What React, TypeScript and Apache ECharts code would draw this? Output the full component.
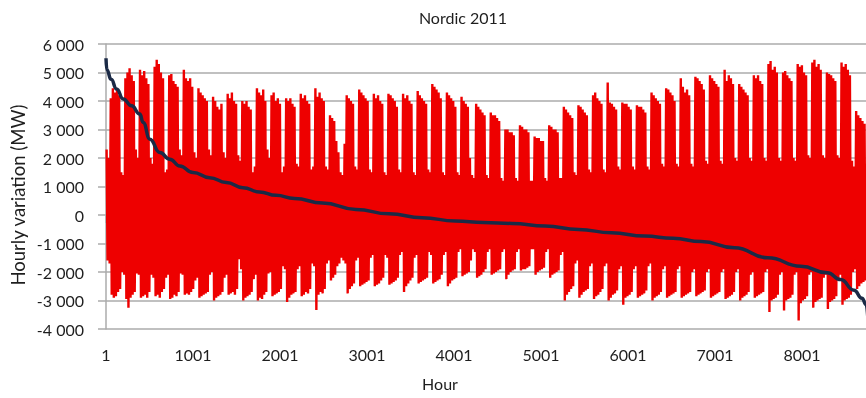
import React, { useEffect, useRef } from "react";
import * as echarts from "echarts";

// Daily maximum hourly variation (MW), Jan 1 (Sat) ... Dec 31 (Sat), one week (Mon..Sun) per line
const dailyPeak: number[] = [
  2300, 2000,
  4100, 4450, 4300, 4400, 4200, 1500, 1400,
  4800, 5000, 5150, 4900, 4700, 2300, 2000,
  5100, 4900, 5050, 4800, 4600, 2000, 1800,
  5200, 5450, 5300, 5000, 4800, 1500, 1600,
  4900, 4950, 4700, 4600, 4500, 2300, 2100,
  5100, 4800, 4700, 4800, 4500, 2200, 2000,
  4450, 4300, 4200, 4100, 4000, 2300, 2100,
  4150, 4000, 3800, 3700, 3900, 2200, 2000,
  4250, 4100, 4300, 4000, 3900, 2100, 1900,
  4000, 3900, 4000, 3800, 3700, 1500, 1700,
  4450, 4300, 4200, 4400, 4000, 2300, 2000,
  4200, 4300, 4000, 4100, 3900, 1500, 1700,
  4100, 4000, 4100, 3900, 3800, 1800, 1700,
  4250, 4100, 4200, 4000, 3900, 1600, 1700,
  4450, 4150, 4300, 4100, 4000, 1700, 1600,
  3500, 3400, 3300, 2600, 2200, 1500, 1400,
  2500, 4200, 4100, 4000, 3900, 1700, 1600,
  4400, 4300, 4200, 4100, 4000, 1600, 1500,
  4250, 4100, 4200, 4000, 3900, 1500, 1400,
  4250, 4200, 4100, 4000, 3800, 1600, 1500,
  4250, 4100, 4200, 4000, 3900, 1500, 1400,
  4350, 4200, 4100, 4000, 3900, 1600, 1500,
  4600, 4500, 4400, 4300, 4100, 1500, 1400,
  4300, 4200, 4100, 4000, 3800, 1500, 1400,
  4150, 4000, 3900, 3800, 2000, 1400, 1300,
  3900, 3800, 3700, 3600, 3500, 1400, 1300,
  3600, 3500, 3500, 3400, 3300, 1300, 1200,
  3000, 3000, 2900, 2900, 2800, 1300, 1200,
  3150, 3100, 3000, 3000, 2900, 1200, 1200,
  2750, 2700, 2700, 2600, 2600, 1300, 1200,
  3150, 3100, 3000, 3000, 2900, 1300, 1300,
  3800, 3700, 3600, 3500, 3400, 1500, 1400,
  3850, 3800, 3700, 3600, 3500, 1600, 1500,
  4200, 4300, 4100, 4000, 3900, 1600, 1500,
  4650, 3950, 3900, 3800, 3700, 1700, 1600,
  3950, 3900, 3900, 3800, 3700, 1700, 1600,
  3850, 3800, 3800, 3700, 3600, 1700, 1600,
  4300, 4200, 4100, 4000, 3900, 1800, 1700,
  4450, 4400, 4300, 4200, 4000, 1800, 1700,
  4800, 4500, 4300, 4400, 4200, 1800, 1700,
  4850, 4800, 4700, 4600, 4400, 1900, 1800,
  4900, 4800, 4700, 4600, 4500, 1900, 1800,
  5100, 4700, 4900, 4800, 4600, 2000, 1900,
  4600, 4500, 4400, 4300, 4200, 2000, 1900,
  4900, 4800, 4900, 4700, 4600, 2000, 1900,
  5300, 5400, 5100, 5200, 5000, 2000, 1900,
  5000, 5050, 4900, 4800, 4700, 2000, 1900,
  5300, 5200, 5250, 5000, 4900, 2100, 2000,
  5350, 5450, 5200, 5300, 5100, 2100, 2000,
  5000, 4950, 4900, 4800, 4700, 2100, 2000,
  5350, 5200, 5300, 5100, 4900, 1900, 1700,
  3650, 3500, 3400, 3300, 3200, 1800,
];

// Daily minimum hourly variation (MW), same layout
const dailyTrough: number[] = [
  -1600, -1700,
  -2800, -2900, -2850, -2700, -2600, -2000, -2100,
  -2950, -3250, -2900, -2800, -2700, -2050, -2100,
  -2900, -2850, -2800, -2900, -2700, -2100, -2200,
  -2850, -2800, -2900, -2700, -2600, -2200, -2100,
  -2950, -2900, -2800, -2850, -2700, -2050, -2100,
  -2800, -2750, -2800, -2700, -2600, -2300, -2200,
  -2900, -2850, -2800, -2750, -2700, -2100, -2000,
  -3000, -2900, -2850, -2800, -2700, -2200, -2100,
  -2800, -2750, -2700, -2800, -2600, -1550, -1900,
  -3000, -2900, -2850, -2800, -2700, -2250, -2100,
  -3000, -2900, -2950, -2800, -2700, -2050, -2000,
  -2850, -2800, -2750, -2700, -2600, -1800, -1900,
  -3050, -2900, -2800, -2750, -2700, -1900, -1800,
  -2850, -2800, -2700, -2750, -2600, -1700, -1800,
  -3330, -2800, -2700, -2750, -2600, -1700, -1600,
  -2300, -2200, -2100, -1800, -1700, -1500, -1600,
  -1700, -2750, -2600, -2500, -2400, -1600, -1500,
  -2500, -2450, -2400, -2350, -2300, -1500, -1400,
  -2500, -2450, -2400, -2300, -2200, -1400, -1500,
  -2450, -2400, -2350, -2300, -2200, -1400, -1300,
  -2700, -2500, -2400, -2300, -2200, -1500, -1400,
  -2400, -2350, -2300, -2250, -2200, -1300, -1400,
  -2400, -2350, -2300, -2250, -2100, -1400, -1300,
  -2500, -2400, -2300, -2250, -2200, -1300, -1200,
  -2150, -2100, -2050, -2000, -1600, -1200, -1300,
  -2200, -2150, -2100, -2000, -1900, -1300, -1200,
  -2100, -2050, -2000, -1950, -1900, -1300, -1200,
  -2250, -2100, -2000, -1950, -1900, -1300, -1200,
  -1950, -1900, -1900, -1850, -1800, -1200, -1200,
  -2100, -2000, -1950, -1900, -1850, -1300, -1200,
  -2200, -2100, -2050, -2000, -1950, -1400, -1300,
  -3000, -2800, -2700, -2600, -2500, -1700, -1600,
  -2900, -2800, -2700, -2650, -2600, -1800, -1700,
  -2950, -2850, -2800, -2700, -2600, -1800, -1700,
  -3000, -2900, -2800, -2750, -2650, -1900, -1800,
  -3150, -2900, -2850, -2800, -2700, -1900, -1800,
  -2900, -2850, -2800, -2750, -2650, -1800, -1700,
  -3000, -2900, -2850, -2800, -2700, -1900, -1800,
  -2900, -2850, -2800, -2750, -2700, -1900, -1800,
  -2900, -2850, -2800, -2750, -2700, -2000, -1900,
  -2850, -2800, -2750, -2700, -2650, -2000, -1900,
  -2900, -2850, -2800, -2750, -2700, -2000, -1900,
  -2950, -2900, -2850, -2800, -2700, -2000, -1900,
  -3000, -2900, -2850, -2800, -2700, -2100, -2000,
  -2900, -2850, -2800, -2750, -2700, -2000, -1900,
  -3400, -3000, -2950, -2900, -2800, -2100, -2000,
  -3350, -3000, -2950, -2900, -2800, -2100, -2000,
  -3700, -3100, -3000, -2950, -2850, -2100, -2000,
  -3250, -3050, -3000, -2950, -2900, -2200, -2100,
  -3300, -3050, -3000, -2950, -2850, -2200, -2100,
  -3150, -3000, -2950, -2900, -2800, -2000, -1900,
  -2600, -2500, -2400, -2350, -2300, -1800,
];

// Duration curve (sorted hourly variation), read at selected hours
const durationHours: number[] = [
  1, 10, 60, 123, 199, 295, 390, 428, 505, 620, 734, 849, 1001, 1192, 1384,
  1574, 1765, 1956, 2166, 2490, 2873, 3254, 3636, 4018, 4342, 4667, 5049,
  5431, 5812, 6194, 6519, 6843, 7225, 7607, 7988, 8294, 8446, 8600, 8690, 8740, 8760,
];
const durationValues: number[] = [
  5500, 5100, 4760, 4420, 4070, 3830, 3540, 3250, 2660, 2190, 1960, 1720, 1490, 1310, 1140,
  960, 810, 690, 580, 420, 197, 40, -96, -213, -260, -295, -390,
  -506, -624, -740, -820, -930, -1150, -1500, -1800, -2030, -2265, -2640, -2920, -3150, -3700,
];

const yMin = -4000;
const yMax = 6000;
const yStep = 1000;
const xMin = 1;
const xMax = 8760;
const xTickStep = 600;
const xLabelStep = 1000;

const FONT = "Lato";
const TEXT = "#1e1e1e";
const GRID = "#ababab";

function fmtThousands(v: number): string {
  const s = Math.abs(v).toString().replace(/\B(?=(\d{3})+(?!\d))/g, " ");
  return (v < 0 ? "-" : "") + s;
}

export default function App() {
  const ref = useRef<HTMLDivElement>(null);
  useEffect(() => {
    const chart = echarts.init(ref.current!, undefined, { renderer: "svg" });
    const redData: [number, number][] = [];
    dailyPeak.forEach((p, d) => {
      redData.push([d * 24 + 8, p]);
      redData.push([d * 24 + 19, dailyTrough[d]]);
    });
    const darkData = durationHours.map((h, i) => [h, durationValues[i]]);

    chart.setOption({
      animation: false,
      textStyle: { fontFamily: FONT },
      grid: { left: 106, right: 0, top: 44, bottom: 69 },
      xAxis: [
        {
          type: "value",
          min: xMin,
          max: xMax,
          interval: xTickStep,
          position: "bottom",
          axisLine: { show: true, lineStyle: { color: GRID, width: 1.5 } },
          axisTick: { show: true, length: 8, lineStyle: { color: GRID, width: 1.5 } },
          axisLabel: { show: false },
          splitLine: { show: false },
        },
        {
          type: "value",
          min: xMin,
          max: xMax,
          interval: xLabelStep,
          position: "bottom",
          axisLine: { show: false },
          axisTick: { show: false },
          splitLine: { show: false },
          axisLabel: {
            show: true,
            margin: 17,
            fontSize: 16,
            fontFamily: FONT,
            color: TEXT,
            formatter: (v: number) => ((v - 1) % xLabelStep === 0 ? String(v) : ""),
          },
        },
      ],
      yAxis: {
        type: "value",
        min: yMin,
        max: yMax,
        interval: yStep,
        axisLine: { show: true, lineStyle: { color: GRID, width: 1.5 } },
        axisTick: { show: true, length: 8, lineStyle: { color: GRID, width: 1.5 } },
        splitLine: { show: true, lineStyle: { color: GRID, width: 1.5 } },
        axisLabel: {
          margin: 22,
          fontSize: 16,
          fontFamily: FONT,
          color: TEXT,
          formatter: (v: number) => fmtThousands(v),
        },
      },
      graphic: [
        {
          type: "text",
          x: 463,
          y: 17,
          style: { text: "Nordic 2011", fontSize: 16, fontFamily: FONT, fill: TEXT, align: "center", verticalAlign: "middle" },
        },
        {
          type: "text",
          x: 440,
          y: 383,
          style: { text: "Hour", fontSize: 16, fontFamily: FONT, fill: TEXT, align: "center", verticalAlign: "middle" },
        },
        {
          type: "text",
          x: 18,
          y: 195,
          rotation: Math.PI / 2,
          style: { text: "Hourly variation (MW)", fontSize: 18.5, fontFamily: FONT, fill: TEXT, align: "center", verticalAlign: "middle" },
        },
      ],
      series: [
        {
          name: "Hourly variation",
          type: "line",
          xAxisIndex: 0,
          data: redData,
          showSymbol: false,
          silent: true,
          lineStyle: { color: "#ee0000", width: 2.4, join: "bevel" },
          z: 2,
        },
        {
          name: "Duration curve",
          type: "line",
          xAxisIndex: 0,
          data: darkData,
          showSymbol: false,
          silent: true,
          smooth: true,
          smoothMonotone: "x",
          lineStyle: { color: "#1b2a46", width: 3.5 },
          z: 3,
        },
      ],
    });
    return () => chart.dispose();
  }, []);
  return <div ref={ref} style={{ position: "fixed", left: 0, top: 0, width: 871, height: 398 }} />;
}
